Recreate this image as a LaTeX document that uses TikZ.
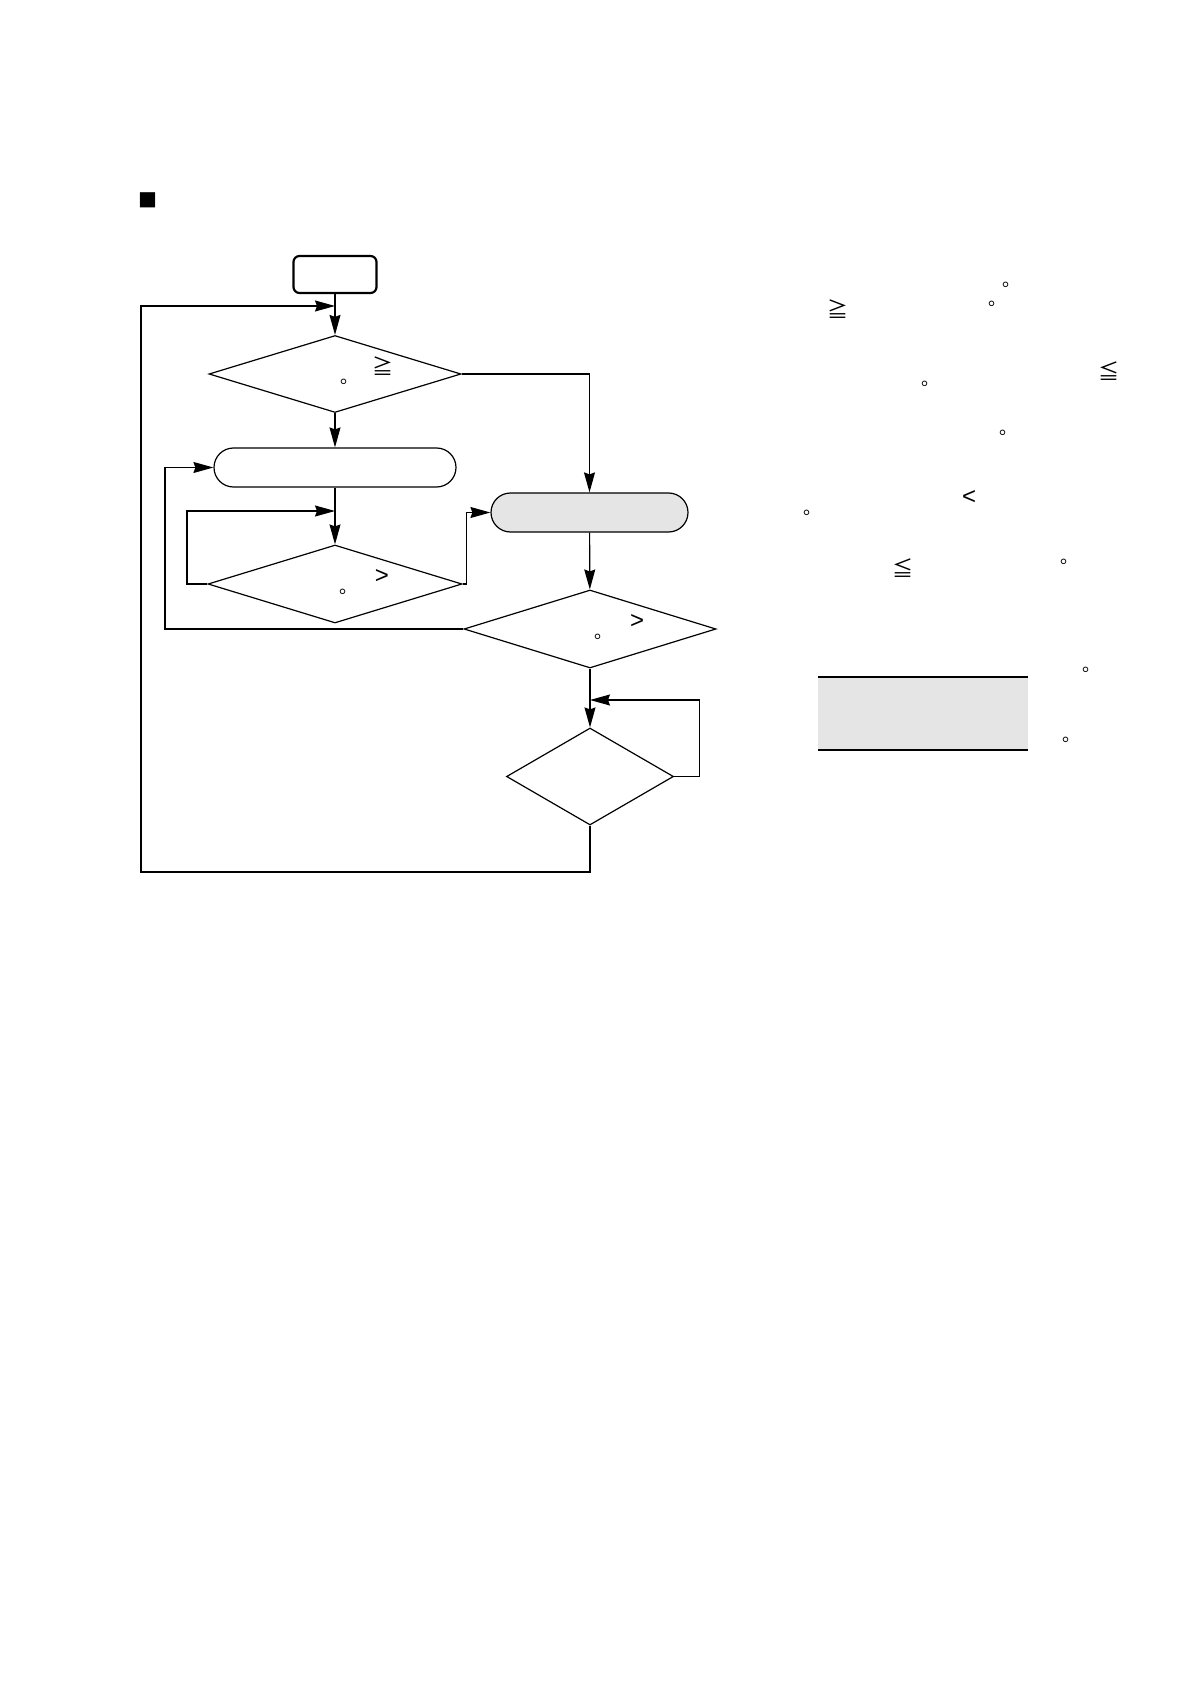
\documentclass[tikz,border=0pt]{standalone}
\usepackage{fontspec}
\newfontfamily\jpfont{Noto Sans CJK JP}
\newfontfamily\latinfont{Liberation Sans}
\usetikzlibrary{arrows.meta,shapes.geometric}

\begin{document}
\begin{tikzpicture}[x=.5pt,y=-.5pt,line width=.6pt,
  flow/.style={-{Stealth[length=10pt,width=5.5pt,inset=1pt]}},
  startbox/.style={draw,line width=1.1pt,rounded corners=3pt,minimum width=41.5pt,minimum height=18.5pt,inner sep=0pt},
  procbox/.style={draw,rounded corners=9.75pt,minimum height=19.5pt,inner sep=0pt},
  decision/.style={draw,diamond,inner sep=0pt},
  sym/.style={inner sep=0pt,font=\jpfont\fontsize{10.5}{12}\selectfont},
  relsym/.style={inner sep=0pt,font=\latinfont\fontsize{12}{14}\selectfont},
  period/.style={sym,font=\jpfont\fontsize{9}{12}\selectfont,xshift=2.7pt,yshift=.5pt}]
\path[use as bounding box] (0,0) rectangle (1190,1684);
\node[sym,font=\jpfont\fontsize{9.5}{12}\selectfont] (mark) at (147.5,200.5) {■};
% flow chart
\node[startbox] (start) at (335,274.5) {};
\node[decision,minimum width=126pt,minimum height=38.5pt] (dec1) at (335,374) {};
\node[procbox,minimum width=121pt] (proc1) at (335,467.5) {};
\node[decision,minimum width=127pt,minimum height=39pt] (dec2) at (335,584) {};
\node[procbox,fill=black!10,minimum width=98.5pt] (proc2) at (589.5,512.5) {};
\node[decision,minimum width=126pt,minimum height=39pt] (dec3) at (590,629) {};
\node[decision,minimum width=83.5pt,minimum height=48.5pt] (dec4) at (590,776.5) {};
\coordinate (join1) at (335,306);
\coordinate (join2) at (335,511);
\coordinate (join4) at (590,700);
\coordinate (loopA) at (141,872);
\coordinate (loopB) at (165,629);
\coordinate (loopC) at (187,584);
\draw[flow] (start) -- (dec1);
\draw[flow] (dec1) -- (proc1);
\draw[flow] (dec1.east) -| (proc2);
\draw[flow] (proc1) -- (dec2);
\draw[flow] (dec2.west) -- (loopC) |- (join2);
\draw[flow] (dec2.east) -- ++(4,0) |- (proc2.west);
\draw[flow] (proc2) -- (dec3);
\draw[flow] (dec3.west) -- (loopB) |- (proc1.west);
\draw[flow] (dec3) -- (dec4);
\draw[flow] (dec4.east) -- ++(25,0) |- (join4);
\draw[flow] (dec4.south) |- (loopA) |- (join1);
\node[sym] (d1ge) at (383,366) {≧};
\node[period] (d1pd) at (344,383) {。};
\node[relsym] (d2gt) at (382,577) {>};
\node[period] (d2pd) at (343,593) {。};
\node[relsym] (d3gt) at (637,622) {>};
\node[period] (d3pd) at (598,638) {。};
% notes on the right
\node[period] (n1pd) at (1006,286) {。};
\node[period] (n2pd) at (992,305) {。};
\node[sym] (n2ge) at (838,309) {≧};
\node[sym] (n3le) at (1109,371) {≦};
\node[period] (n3pd) at (925,385) {。};
\node[period] (n4pd) at (1003,434) {。};
\node[relsym] (n5lt) at (969,498) {<};
\node[period] (n5pd) at (807,514) {。};
\node[sym] (n6le) at (903,568) {≦};
\node[period] (n6pd) at (1064,563) {。};
\fill[black!10] (818,677) rectangle (1028,750);
\draw[line width=.7pt] (818,677) -- (1028,677);
\draw[line width=.7pt] (818,750) -- (1028,750);
\node[period] (n7pd) at (1086,671) {。};
\node[period] (n8pd) at (1066,741) {。};
\end{tikzpicture}
\end{document}
